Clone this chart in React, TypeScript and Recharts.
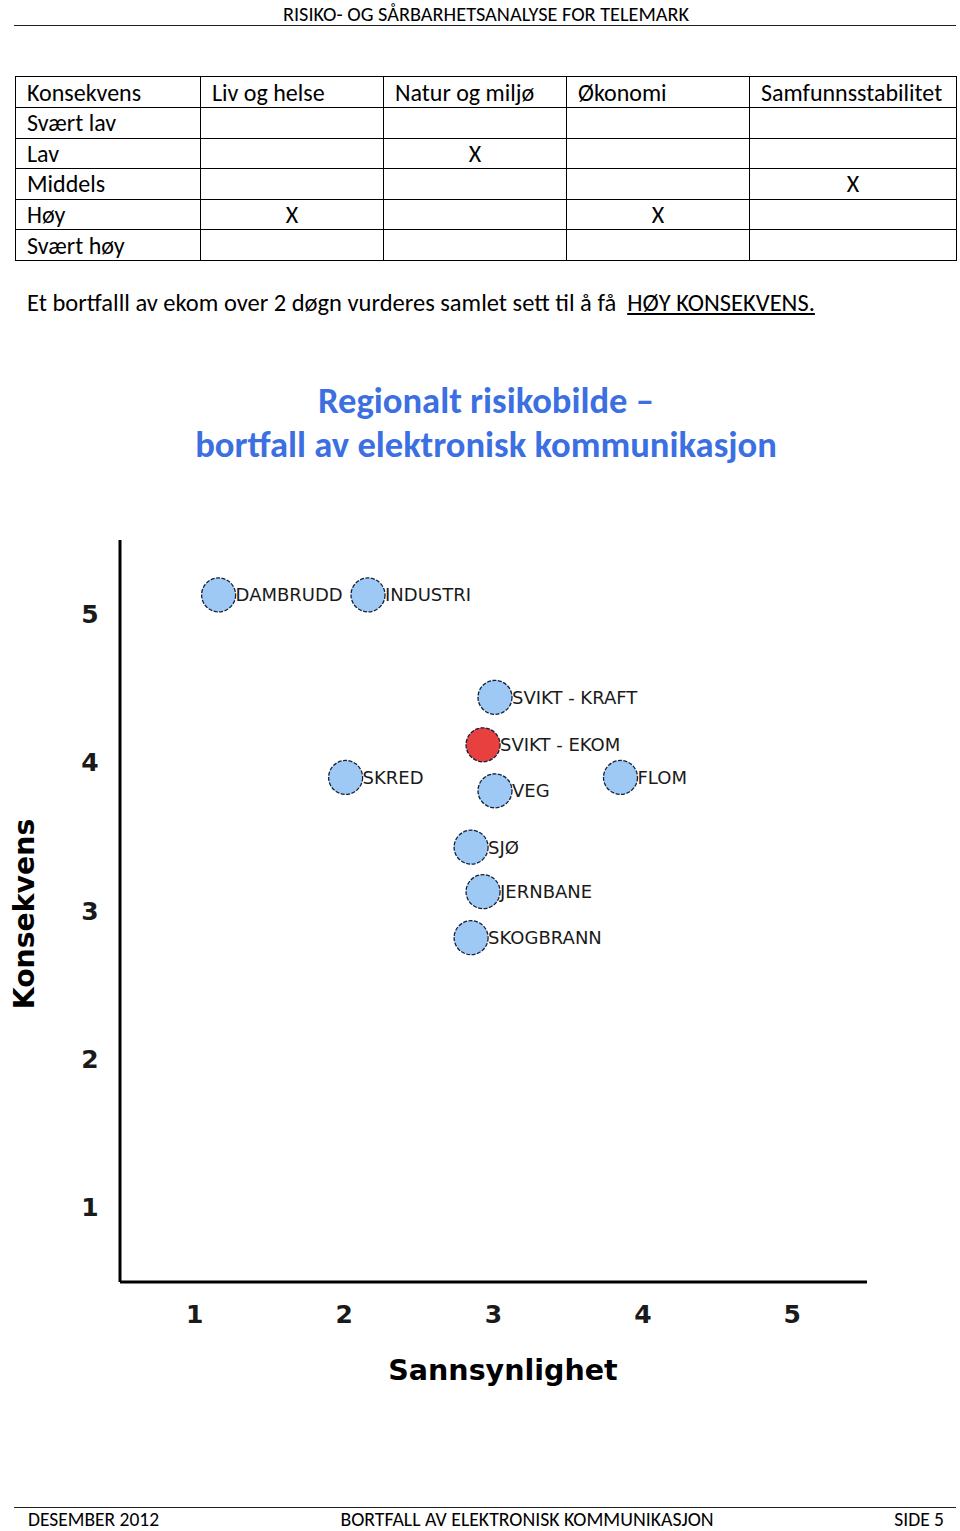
import React from 'react'
import { ScatterChart, Scatter, XAxis, YAxis, Label } from 'recharts'

// risk matrix (Konsekvens x dimension)
const columns = ['Konsekvens', 'Liv og helse', 'Natur og miljø', 'Økonomi', 'Samfunnsstabilitet']
const levels = ['Svært lav', 'Lav', 'Middels', 'Høy', 'Svært høy']
const marks: Record<string, string[]> = {
  'Liv og helse': ['Høy'],
  'Natur og miljø': ['Lav'],
  'Økonomi': ['Høy'],
  'Samfunnsstabilitet': ['Middels'],
}

// scatter: hazards by sannsynlighet (x) and konsekvens (y)
const hazards = ['DAMBRUDD', 'INDUSTRI', 'SVIKT - KRAFT', 'SVIKT - EKOM', 'SKRED', 'VEG', 'FLOM', 'SJØ', 'JERNBANE', 'SKOGBRANN']
const probability = [1.16, 2.16, 3.01, 2.93, 2.01, 3.01, 3.85, 2.85, 2.93, 2.85]
const consequence = [5.13, 5.13, 4.44, 4.12, 3.9, 3.81, 3.9, 3.43, 3.13, 2.82]
const axisTicks = [1, 2, 3, 4, 5]
const HIGHLIGHT = 'SVIKT - EKOM'

const C = {
  ink: '#000', text: '#1a1a1a', blue: '#3b6fe2',
  dot: '#9ec9f5', dotRed: '#e8403f', dotEdge: '#14203a',
}
const DOC_FONT = 'Carlito, Lato, "Open Sans", sans-serif'
const CHART_FONT = '"DejaVu Sans", Verdana, sans-serif'

const colW = [185, 183, 183, 183, 207]

function Dot(props: any) {
  const { cx, cy, payload } = props
  const red = payload.name === HIGHLIGHT
  return (
    <g>
      <circle cx={cx} cy={cy} r={17} fill={red ? C.dotRed : C.dot} stroke={C.dotEdge} strokeWidth={1.3} strokeDasharray="4 1.5" />
      <text x={cx + 17} y={cy} dominantBaseline="central" fontFamily={CHART_FONT} fontSize={18} fill={C.text}>{payload.name}</text>
    </g>
  )
}

export default function App() {
  const data = hazards.map((name, i) => ({ name, x: probability[i], y: consequence[i] }))
  const foot = { position: 'absolute' as const, top: 1512, fontSize: 19.5, lineHeight: '14px', whiteSpace: 'nowrap' as const }

  return (
    <div style={{ position: 'absolute', left: 0, top: 0, width: 960, height: 1531, overflow: 'hidden', background: '#fff', fontFamily: DOC_FONT, color: '#000' }}>
      {/* header */}
      <div style={{ position: 'absolute', left: 0, width: 972, top: 2, textAlign: 'center', fontSize: 20.3, lineHeight: '24px' }}>RISIKO- OG SÅRBARHETSANALYSE FOR TELEMARK</div>
      <div style={{ position: 'absolute', left: 14, width: 942, top: 25, borderTop: '1.5px solid #222' }} />

      {/* table */}
      <table style={{ position: 'absolute', left: 15, top: 76, borderCollapse: 'collapse', fontSize: 24, tableLayout: 'fixed', width: 941 }}>
        <colgroup>{colW.map((w, i) => <col key={i} style={{ width: w }} />)}</colgroup>
        <tbody>
          <tr style={{ height: 31 }}>
            {columns.map(c => <td key={c} style={{ border: '1px solid #000', padding: '1px 0 0 11px', whiteSpace: 'nowrap', lineHeight: '28px' }}>{c}</td>)}
          </tr>
          {levels.map(l => (
            <tr key={l} style={{ height: 30.6 }}>
              <td style={{ border: '1px solid #000', padding: '1px 0 0 11px', lineHeight: '28px' }}>{l}</td>
              {columns.slice(1).map(c => (
                <td key={c} style={{ border: '1px solid #000', textAlign: 'center', padding: '1px 0 0 0', lineHeight: '28px' }}>{marks[c]?.includes(l) ? 'X' : ''}</td>
              ))}
            </tr>
          ))}
        </tbody>
      </table>

      <div style={{ position: 'absolute', left: 27, top: 288, fontSize: 24.5, whiteSpace: 'nowrap' }}>
        Et bortfalll av ekom over 2 døgn vurderes samlet sett til å få&nbsp; <span style={{ textDecoration: 'underline' }}>HØY KONSEKVENS.</span>
      </div>

      {/* title */}
      <div style={{ position: 'absolute', left: 0, width: 972, top: 379, textAlign: 'center', color: C.blue, fontWeight: 700, fontSize: 36.6, lineHeight: '44px' }}>
        Regionalt risikobilde –<br />bortfall av elektronisk kommunikasjon
      </div>

      {/* risk chart */}
      <div style={{ position: 'absolute', left: 0, top: 500 }}>
        <ScatterChart width={960} height={900} margin={{ top: 40, right: 93, bottom: 0, left: 0 }}>
          <XAxis type="number" dataKey="x" domain={[0.5, 5.5]} ticks={axisTicks} height={118}
            axisLine={{ stroke: C.ink, strokeWidth: 3 }} tickLine={false}
            tick={(p: any) => (
              <text x={p.x} y={814} textAnchor="middle" dominantBaseline="central" fontFamily={CHART_FONT} fontWeight={700} fontSize={25} fill={C.text}>{p.payload.value}</text>
            )}>
            <Label content={() => (
              <text x={503} y={870} textAnchor="middle" dominantBaseline="central" fontFamily={CHART_FONT} fontWeight={700} fontSize={28.5} fill={C.ink}>Sannsynlighet</text>
            )} />
          </XAxis>
          <YAxis type="number" dataKey="y" domain={[0.5, 5.5]} ticks={axisTicks} width={120}
            axisLine={{ stroke: C.ink, strokeWidth: 3 }} tickLine={false}
            tick={(p: any) => (
              <text x={90} y={p.y} textAnchor="middle" dominantBaseline="central" fontFamily={CHART_FONT} fontWeight={700} fontSize={25} fill={C.text}>{p.payload.value}</text>
            )}>
            <Label content={() => (
              <text x={24} y={414} transform="rotate(-90 24 414)" textAnchor="middle" dominantBaseline="central" fontFamily={CHART_FONT} fontWeight={700} fontSize={28.3} fill={C.ink}>Konsekvens</text>
            )} />
          </YAxis>
          <Scatter data={data} shape={Dot} isAnimationActive={false} />
        </ScatterChart>
      </div>

      {/* footer */}
      <div style={{ position: 'absolute', left: 14, width: 942, top: 1507, borderTop: '1.5px solid #222' }} />
      <div style={{ ...foot, left: 28 }}>DESEMBER 2012</div>
      <div style={{ ...foot, left: 0, width: 1054, textAlign: 'center', fontSize: 19.8 }}>BORTFALL AV ELEKTRONISK KOMMUNIKASJON</div>
      <div style={{ ...foot, right: 16 }}>SIDE 5</div>
    </div>
  )
}
